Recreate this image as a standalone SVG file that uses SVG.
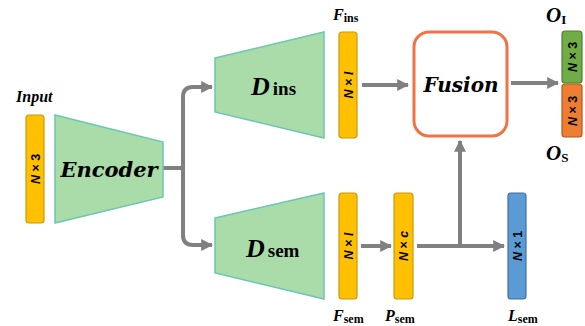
<svg xmlns="http://www.w3.org/2000/svg" width="585" height="326" viewBox="0 0 585 326">
<defs>
<style>
.trap{fill:#A9DCA9;stroke:#6CC6B0;stroke-width:1.5}
.ybar{fill:#FFC000;stroke:#C89A10;stroke-width:1.2}
.bt{font-family:"Liberation Sans",Arial,sans-serif;font-weight:bold;font-size:12.5px;fill:#000}
.lbl{font-family:"Liberation Serif","Times New Roman",serif;font-weight:bold;font-style:italic;fill:#000}
.sub{font-style:normal;font-weight:bold}
.big{font-family:"DejaVu Serif","Liberation Serif",serif;font-weight:bold;font-style:italic;fill:#000}
.ln{fill:none;stroke:#808080;stroke-width:4}
</style>
<marker id="ah" viewBox="0 0 10 10" refX="9" refY="5" markerWidth="3" markerHeight="3" orient="auto" markerUnits="strokeWidth">
<path d="M0,0 L10,5 L0,10 z" fill="#808080"/>
</marker>
</defs>
<rect width="585" height="326" fill="#fff"/>
<g id="connectors">
<path class="ln" d="M163,168 H183"/>
<path class="ln" d="M183,168 V97 Q183,87 193,87 H212" marker-end="url(#ah)"/>
<path class="ln" d="M183,168 V235 Q183,245 193,245 H212" marker-end="url(#ah)"/>
<path class="ln" d="M362,85 H408" marker-end="url(#ah)"/>
<path class="ln" d="M511,83 H558" marker-end="url(#ah)"/>
<path class="ln" d="M361,246 H391" marker-end="url(#ah)"/>
<path class="ln" d="M417,246 H504" marker-end="url(#ah)"/>
<path class="ln" d="M460,246 V141" marker-end="url(#ah)"/>
</g>
<g id="input">
<text class="lbl" x="16" y="102" font-size="16">Input</text>
<rect class="ybar" x="26" y="115" width="18" height="108" rx="3"/>
<text class="bt" transform="translate(39.5,169) rotate(-90)" text-anchor="middle"><tspan font-style="italic">N</tspan> × 3</text>
</g>
<g id="encoder">
<path class="trap" d="M55,115 L163,142 L163,197 L55,223 Z"/>
<text class="big" x="109" y="177" font-size="21" text-anchor="middle">Encoder</text>
</g>
<g id="dins">
<path class="trap" d="M215,58 L324,32 L324,138 L215,112 Z"/>
<text class="lbl" x="251" y="95" font-size="26">D<tspan class="sub" font-size="19" dx="3">ins</tspan></text>
</g>
<g id="dsem">
<path class="trap" d="M215,218 L324,193 L324,299 L215,273 Z"/>
<text class="lbl" x="246" y="257" font-size="26">D<tspan class="sub" font-size="19" dx="3">sem</tspan></text>
</g>
<g id="fins">
<text class="lbl" x="333" y="20" font-size="16">F<tspan class="sub" font-size="12" dy="2">ins</tspan></text>
<rect class="ybar" x="339" y="32" width="18" height="106" rx="3"/>
<text class="bt" transform="translate(352.5,85) rotate(-90)" text-anchor="middle"><tspan font-style="italic">N</tspan> × <tspan font-style="italic" font-family="Liberation Serif, serif">l</tspan></text>
</g>
<g id="fsem">
<rect class="ybar" x="339" y="193" width="18" height="106" rx="3"/>
<text class="bt" transform="translate(352.5,246) rotate(-90)" text-anchor="middle"><tspan font-style="italic">N</tspan> × <tspan font-style="italic" font-family="Liberation Serif, serif">l</tspan></text>
<text class="lbl" x="333" y="321" font-size="16">F<tspan class="sub" font-size="12" dy="2">sem</tspan></text>
</g>
<g id="psem">
<rect class="ybar" x="394" y="193" width="19" height="106" rx="3"/>
<text class="bt" transform="translate(408,246) rotate(-90)" text-anchor="middle"><tspan font-style="italic">N</tspan> × <tspan font-style="italic">c</tspan></text>
<text class="lbl" x="385" y="321" font-size="16">P<tspan class="sub" font-size="12" dy="2">sem</tspan></text>
</g>
<g id="lsem">
<rect x="508" y="193" width="18" height="106" rx="3" fill="#5B9BD5" stroke="#41719C" stroke-width="1.2"/>
<text class="bt" transform="translate(521.5,246) rotate(-90)" text-anchor="middle"><tspan font-style="italic">N</tspan> × 1</text>
<text class="lbl" x="508" y="321" font-size="16">L<tspan class="sub" font-size="12" dy="2">sem</tspan></text>
</g>
<g id="fusion">
<rect x="414" y="32" width="93" height="104" rx="15" fill="#fff" stroke="#F07346" stroke-width="3"/>
<text class="big" x="461" y="92" font-size="20" text-anchor="middle">Fusion</text>
</g>
<g id="outputs">
<text class="lbl" x="546" y="22" font-size="21">O<tspan class="sub" font-size="13" dy="2">I</tspan></text>
<rect x="562" y="31" width="20" height="52" rx="3" fill="#70AD47" stroke="#507E32" stroke-width="1.2"/>
<text class="bt" transform="translate(576.5,57) rotate(-90)" text-anchor="middle"><tspan font-style="italic">N</tspan> × 3</text>
<rect x="562" y="84" width="20" height="53" rx="3" fill="#ED7D31" stroke="#AE5A21" stroke-width="1.2"/>
<text class="bt" transform="translate(576.5,111) rotate(-90)" text-anchor="middle"><tspan font-style="italic">N</tspan> × 3</text>
<text class="lbl" x="546" y="160" font-size="21">O<tspan class="sub" font-size="13" dy="2">S</tspan></text>
</g>
</svg>
